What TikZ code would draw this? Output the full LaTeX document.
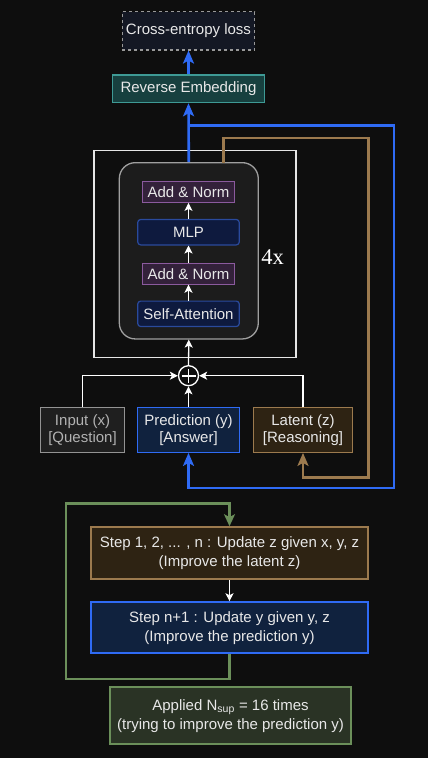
\documentclass[tikz,border=0pt]{standalone}
\usepackage{fontspec}
\setmainfont{Liberation Sans}
\newfontfamily\fourfont{Liberation Serif}
\usetikzlibrary{arrows.meta}
\definecolor{bg}{HTML}{0E0E0E}
\definecolor{txt}{HTML}{E8E8E8}
\definecolor{bluel}{HTML}{2F6BF5}
\definecolor{brownl}{HTML}{9C7A4E}
\definecolor{greenl}{HTML}{6B8F5A}
\definecolor{bluef}{HTML}{10223E}
\definecolor{brownf}{HTML}{2E2313}
\definecolor{greenf}{HTML}{2A3325}
\definecolor{navyf}{HTML}{0E1A3E}
\definecolor{navyb}{HTML}{2A4A9C}
\definecolor{purpf}{HTML}{33213A}
\definecolor{purpb}{HTML}{8B5A9E}
\definecolor{tealf}{HTML}{17403F}
\definecolor{tealb}{HTML}{3E9A95}
\definecolor{lossf}{HTML}{141824}
\definecolor{blockf}{HTML}{1C1C1C}
\definecolor{inpf}{HTML}{1F1F1F}
\begin{document}
\begin{tikzpicture}[x=1pt,y=-1pt,
  every node/.style={font=\fontsize{15}{18}\selectfont, text=txt, align=center, inner sep=0pt},
  box/.style={draw, line width=1.2pt},
  anbox/.style={box, fill=purpf, draw=purpb, minimum width=92.7, minimum height=20.6},
  navybox/.style={box, fill=navyf, draw=navyb, rounded corners=3pt, minimum width=101.6, minimum height=25.4},
  wline/.style={draw=white, line width=1.3pt, -{Stealth[length=8pt,width=8pt,inset=2pt]}},
  bline/.style={draw=bluel, line width=2.6pt},
  brline/.style={draw=brownl, line width=2.4pt},
  gline/.style={draw=greenl, line width=2.4pt},
  bigtip/.style={-{Stealth[length=13pt,width=11pt,inset=3pt]}},
]
\fill[bg] (0,0) rectangle (428,758);
\useasboundingbox (0,0) rectangle (428,758);

% top
\node[box, dashed, draw=gray!80, fill=lossf, minimum width=132.6, minimum height=38.3] (loss) at (188.5,30.8) {Cross-entropy loss};
\node[box, fill=tealf, draw=tealb, minimum width=151.7, minimum height=27.7] (re) at (188.5,88.8) {Reverse Embedding};

% transformer
\node[draw=white!90!black, line width=1.1pt, minimum width=202, minimum height=207] (outer) at (195,254.2) {};
\node[draw=gray!75, line width=1.3pt, fill=blockf, rounded corners=16pt, minimum width=139, minimum height=176.3] (block) at (188.8,250.8) {};
\node[anbox] (an2) at (188.5,192) {Add \& Norm};
\node[navybox] (mlp) at (188.5,232.2) {MLP};
\node[anbox] (an1) at (188.5,273.8) {Add \& Norm};
\node[navybox] (sa) at (188.5,313.8) {Self-Attention};
\node[font=\fourfont\fontsize{22.5}{24}\selectfont, text=white] (four) at (272.5,257.5) {4x};

\draw[wline] (sa.north) -- (an1.south);
\draw[wline] (an1.north) -- (mlp.south);
\draw[wline] (mlp.north) -- (an2.south);

% plus
\node[draw=white, circle, line width=1.3pt, minimum size=20pt, fill=bg] (plus) at (188.5,375.7) {};
\draw[white, line width=1.6pt] ([yshift=-7pt]plus.center) -- ([yshift=7pt]plus.center);
\draw[white, line width=1.6pt] ([xshift=-7pt]plus.center) -- ([xshift=7pt]plus.center);
\draw[wline] (plus.north) -- (block.south);

% inputs
\node[box, fill=inpf, draw=gray!85, text=gray!60!white, minimum width=83.6, minimum height=44.6] (inp) at (82.5,430) {Input (x)\\[-1pt][Question]};
\node[box, fill=bluef, draw=bluel, minimum width=101.6, minimum height=44.6] (pred) at (188.5,430) {Prediction (y)\\[-1pt][Answer]};
\node[box, fill=brownf, draw=brownl, minimum width=99.4, minimum height=44.6] (lat) at (303,430) {Latent (z)\\[-1pt][Reasoning]};

\draw[wline] (inp.north) |- (plus.west);
\draw[wline] (lat.north) |- (plus.east);
\draw[wline] (pred.north) -- (plus.south);

% blue loop
\coordinate (bj) at (188.5,125.7);
\coordinate (b1) at (394,125.7);
\coordinate (b2) at (394,488);
\draw[bline, bigtip] (block.north) -- (re.south);
\draw[bline, bigtip] (re.north) -- (loss.south);
\draw[bline, bigtip] (bj) -- (b1) -- (b2) -| (pred.south);

% brown loop
\coordinate (r0) at (223.3,162.7);
\coordinate (r1) at (223.3,137.7);
\coordinate (r2) at (368.3,137.7);
\coordinate (r3) at (368.3,477.3);
\draw[brline, bigtip] (r0) -- (r1) -- (r2) -- (r3) -| (lat.south);

% bottom
\node[box, line width=2.2pt, fill=brownf, draw=brownl, minimum width=277.6, minimum height=52] (s1) at (229.5,553.3) {Step 1, 2, ... , n : Update z given x, y, z\\[1pt](Improve the latent z)};
\node[box, line width=2.2pt, fill=bluef, draw=bluel, minimum width=277.6, minimum height=51] (s2) at (229.5,627.8) {Step n+1 : Update y given y, z\\[1pt](Improve the prediction y)};
\node[box, line width=2.2pt, fill=greenf, draw=greenl, minimum width=241, minimum height=56.7] (app) at (230.5,715.7) {Applied N\textsubscript{sup} = 16 times\\[1pt](trying to improve the prediction y)};

\draw[wline] (s1.south) -- (s2.north);
\coordinate (g1) at (65.7,679);
\coordinate (g2) at (65.7,503.3);
\draw[gline, -{Stealth[length=12pt,width=11pt,inset=3pt]}] (s2.south) |- (g1) -- (g2) -| (s1.north);
\end{tikzpicture}
\end{document}
